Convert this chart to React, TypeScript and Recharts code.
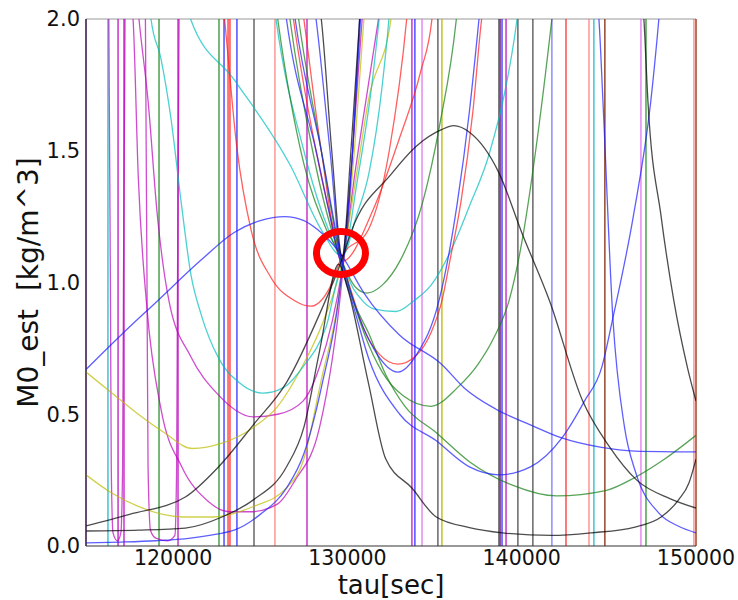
import { LineChart, Line, XAxis, YAxis, ReferenceLine, ReferenceDot } from 'recharts'

type Pt = [number, number]

// axis ticks
const xTicks = [120000, 130000, 140000, 150000]
const yTicks = [0, 0.5, 1.0, 1.5, 2.0]

// where everything crosses (marked by the red ring)
const crossing: Pt = [129630, 1.112]

// curves, [tau, M0_est]
const blueHump: Pt[] = [[115000, 0.67], [117000, 0.8], [119100, 0.93], [121600, 1.085], [123500, 1.19], [125000, 1.235], [126400, 1.25], [127500, 1.235], [128300, 1.2], [129700, 1.1], [130950, 0.96], [133000, 0.8], [135400, 0.69], [136700, 0.6], [138500, 0.52], [140500, 0.46], [142300, 0.41], [144500, 0.375], [146500, 0.36], [150000, 0.357]]
const blackHump: Pt[] = [[115000, 0.076], [117500, 0.12], [120700, 0.186], [122600, 0.3], [124600, 0.46], [126500, 0.62], [128400, 0.88], [129700, 1.09], [130200, 1.19], [132500, 1.41], [134000, 1.52], [135400, 1.58], [136100, 1.595], [137000, 1.57], [138700, 1.415], [140000, 1.19], [141600, 0.93], [143500, 0.55], [145000, 0.38], [146600, 0.25], [148500, 0.18], [150000, 0.144]]
const blackTent: Pt[] = [[115000, 0.057], [118000, 0.06], [120700, 0.068], [122800, 0.11], [124600, 0.175], [126500, 0.3], [127500, 0.45], [128400, 0.74], [129500, 1.07], [130000, 0.98], [131200, 0.62], [132200, 0.33], [133700, 0.22], [135100, 0.11], [137000, 0.07], [138900, 0.05], [141700, 0.04], [144000, 0.05], [146500, 0.072], [148000, 0.11], [149000, 0.175], [149600, 0.24], [150000, 0.33]]
const blackV: Pt[] = [[128300, 2.1], [128500, 2.0], [129100, 1.5], [129700, 1.1], [130200, 1.5], [130700, 2.0], [130800, 2.1]]
const blackSteep: Pt[] = [[146900, 2.1], [147010, 2.0], [147240, 1.69], [148000, 1.25], [148730, 0.93], [149500, 0.68], [150000, 0.55]]
const yellowUpper: Pt[] = [[115000, 0.66], [116500, 0.58], [118000, 0.5], [119500, 0.43], [121100, 0.37], [122800, 0.39], [124600, 0.45], [126000, 0.53], [127400, 0.68], [128600, 0.85], [129700, 1.08], [130500, 1.4], [131230, 1.7], [132500, 2.0], [132700, 2.1]]
const yellowLower: Pt[] = [[115000, 0.27], [116500, 0.2], [118000, 0.15], [120600, 0.11], [122300, 0.11], [124600, 0.15], [126500, 0.22], [127500, 0.33], [128400, 0.6], [129700, 1.04], [130400, 1.5], [131000, 2.05]]
const cyanW: Pt[] = [[118600, 2.1], [118730, 2.0], [119300, 1.85], [119880, 1.62], [120450, 1.31], [121020, 1.03], [121600, 0.88], [122630, 0.71], [123800, 0.62], [125150, 0.58], [126300, 0.6], [127450, 0.68], [128770, 0.83], [129700, 1.05], [130400, 0.97], [131500, 0.9], [132800, 0.89], [133800, 0.93], [134800, 0.99], [136000, 1.13], [137000, 1.29], [138100, 1.48], [139200, 1.78], [139730, 2.0], [139900, 2.1]]
const cyanLong: Pt[] = [[120600, 2.15], [121000, 2.0], [123500, 1.77], [126760, 1.44], [128500, 1.2], [129700, 1.1], [130500, 1.25], [131250, 1.42], [132000, 1.75], [132380, 2.0], [132500, 2.1]]
const cyanV: Pt[] = [[125700, 2.1], [125900, 2.0], [127500, 1.5], [128800, 1.22], [129700, 1.1], [130600, 1.4], [131400, 1.75], [131900, 2.05]]
const redLeftU: Pt[] = [[122800, 2.1], [122950, 2.0], [123660, 1.51], [124470, 1.2], [125600, 1.02], [127000, 0.93], [127900, 0.91], [128900, 0.97], [129700, 1.1], [131200, 1.2], [132400, 1.5], [133400, 2.0], [133600, 2.15]]
const redRightU: Pt[] = [[126700, 2.1], [126900, 2.0], [128200, 1.5], [129700, 1.08], [130300, 0.95], [130900, 0.83], [131800, 0.73], [132900, 0.69], [133900, 0.72], [134800, 0.81], [135420, 0.93], [135900, 1.09], [136500, 1.3], [137200, 1.65], [137700, 2.0], [137900, 2.1]]
const redV: Pt[] = [[127300, 2.1], [127500, 2.0], [128500, 1.5], [129700, 1.08], [131500, 1.28], [133000, 1.55], [134200, 1.8], [134850, 2.0], [135000, 2.1]]
const greenMid: Pt[] = [[125800, 2.1], [126000, 2.0], [127500, 1.45], [128800, 1.2], [129700, 1.08], [130030, 1.0], [131000, 0.8], [132000, 0.66], [133200, 0.57], [134790, 0.53], [136300, 0.6], [137500, 0.69], [138400, 0.79], [139270, 0.93], [140000, 1.15], [140800, 1.5], [141730, 2.0], [141900, 2.1]]
const greenNear: Pt[] = [[126500, 2.1], [126700, 2.0], [128000, 1.5], [129700, 1.08], [130500, 0.98], [131100, 0.96], [132000, 0.99], [133000, 1.08], [134300, 1.3], [135300, 1.6], [136250, 2.0], [136400, 2.1]]
const greenWide: Pt[] = [[127000, 2.1], [127200, 2.0], [128500, 1.5], [129700, 1.06], [130400, 0.92], [131200, 0.81], [132200, 0.65], [133300, 0.53], [135100, 0.43], [137000, 0.32], [139500, 0.23], [142000, 0.19], [144800, 0.21], [146500, 0.26], [148200, 0.33], [150000, 0.42]]
const blueNearU: Pt[] = [[126800, 2.1], [127000, 2.0], [128500, 1.5], [129700, 1.08], [130500, 0.9], [131500, 0.75], [132900, 0.66], [134000, 0.73], [135250, 0.93], [136300, 1.3], [137000, 1.65], [137550, 2.0], [137700, 2.1]]
const blueWideU: Pt[] = [[126300, 2.1], [126500, 2.0], [128200, 1.5], [129700, 1.05], [130300, 0.92], [131230, 0.71], [133000, 0.5], [135080, 0.4], [137000, 0.3], [138700, 0.27], [140500, 0.3], [142310, 0.41], [143600, 0.55], [144600, 0.68], [145230, 0.865], [146400, 1.25], [147410, 1.69], [147870, 2.0], [148000, 2.1]]
const blueSteep: Pt[] = [[144300, 2.1], [144430, 2.0], [144660, 1.69], [145230, 0.865], [145900, 0.45], [146550, 0.277], [147870, 0.125], [149000, 0.075], [150000, 0.05]]
const blueLow: Pt[] = [[115000, 0.012], [117000, 0.015], [119000, 0.02], [121000, 0.03], [122500, 0.045], [123500, 0.06], [125000, 0.12], [126500, 0.22], [127500, 0.35], [128500, 0.6], [129700, 1.05], [130300, 1.5], [130800, 2.05]]
const blueV: Pt[] = [[128000, 2.1], [128200, 2.0], [129000, 1.5], [129700, 1.08], [130300, 1.5], [130700, 2.0], [130800, 2.1]]
const magentaDeep: Pt[] = [[117500, 2.1], [117700, 2.0], [118000, 1.4], [118500, 0.9], [119300, 0.52], [120500, 0.3], [122000, 0.17], [123200, 0.13], [124500, 0.13], [126000, 0.16], [127000, 0.25], [128400, 0.45], [129700, 1.02], [130300, 1.5], [130900, 2.05]]
const magentaMid: Pt[] = [[117900, 2.1], [118040, 2.0], [118560, 1.69], [119100, 1.25], [119760, 0.93], [121000, 0.72], [122500, 0.58], [124580, 0.49], [126000, 0.5], [127450, 0.55], [128400, 0.68], [129700, 1.05], [130400, 1.4], [131200, 1.75], [131900, 2.05]]
const magentaDip1: Pt[] = [[116300, 2.1], [116400, 1.0], [116450, 0.3], [116550, 0.05], [116800, 0.02], [117000, 0.05], [117100, 0.3], [117150, 1.0], [117250, 2.1]]
const magentaDip2: Pt[] = [[118400, 2.1], [118500, 1.0], [118560, 0.3], [118700, 0.06], [119000, 0.03], [119700, 0.02], [120100, 0.04], [120200, 0.3], [120250, 1.0], [120350, 2.1]]

// near-vertical poles, tau
const polesMagenta = [116840, 117180, 120280, 127680, 133700, 139100]
const polesViolet = [134280, 146840]
const polesLightRed = [125840, 143860, 149880]
const polesRed = [123150, 123260, 142540]
const polesGreen = [119190, 122630, 147130]
const polesBlue = [122920, 123660, 133870, 138870]
const polesLightBlue = [141730]
const polesCyan = [116260, 144140]
const polesGray = [124640, 135190, 138690, 139780, 140640]
const polesYellow = [135420]
const polesBrown = [144770, 150000]
const polesPurple = [115000, 138760]

const C = {
  b: '#1a1aff',
  g: '#107c10',
  r: '#ff1a1a',
  c: '#00bdbd',
  m: '#bb00bb',
  y: '#bcbc00',
  k: '#000000',
}

const curves: { name: string; pts: Pt[]; color: string }[] = [
  { name: 'magentaDip1', pts: magentaDip1, color: C.m },
  { name: 'magentaDip2', pts: magentaDip2, color: C.m },
  { name: 'magentaDeep', pts: magentaDeep, color: C.m },
  { name: 'magentaMid', pts: magentaMid, color: C.m },
  { name: 'yellowUpper', pts: yellowUpper, color: C.y },
  { name: 'yellowLower', pts: yellowLower, color: C.y },
  { name: 'cyanW', pts: cyanW, color: C.c },
  { name: 'cyanLong', pts: cyanLong, color: C.c },
  { name: 'cyanV', pts: cyanV, color: C.c },
  { name: 'redLeftU', pts: redLeftU, color: C.r },
  { name: 'redRightU', pts: redRightU, color: C.r },
  { name: 'redV', pts: redV, color: C.r },
  { name: 'greenMid', pts: greenMid, color: C.g },
  { name: 'greenNear', pts: greenNear, color: C.g },
  { name: 'greenWide', pts: greenWide, color: C.g },
  { name: 'blueNearU', pts: blueNearU, color: C.b },
  { name: 'blueWideU', pts: blueWideU, color: C.b },
  { name: 'blueSteep', pts: blueSteep, color: C.b },
  { name: 'blueLow', pts: blueLow, color: C.b },
  { name: 'blueV', pts: blueV, color: C.b },
  { name: 'blueHump', pts: blueHump, color: C.b },
  { name: 'blackHump', pts: blackHump, color: C.k },
  { name: 'blackTent', pts: blackTent, color: C.k },
  { name: 'blackV', pts: blackV, color: C.k },
  { name: 'blackSteep', pts: blackSteep, color: C.k },
]

const poleGroups: { xs: number[]; color: string; opacity: number }[] = [
  { xs: polesMagenta, color: '#bb00bb', opacity: 0.75 },
  { xs: polesViolet, color: '#dd77ee', opacity: 0.8 },
  { xs: polesLightRed, color: '#ff7070', opacity: 0.7 },
  { xs: polesRed, color: '#ff2020', opacity: 0.75 },
  { xs: polesGreen, color: '#108010', opacity: 0.7 },
  { xs: polesBlue, color: '#2020ff', opacity: 0.75 },
  { xs: polesLightBlue, color: '#7070ff', opacity: 0.75 },
  { xs: polesCyan, color: '#20b8c8', opacity: 0.8 },
  { xs: polesGray, color: '#333333', opacity: 0.7 },
  { xs: polesYellow, color: '#b8b800', opacity: 0.8 },
  { xs: polesBrown, color: '#8a3412', opacity: 0.85 },
  { xs: polesPurple, color: '#6a1a8a', opacity: 0.85 },
]

const FONT = 'DejaVu Sans'

export default function App() {
  return (
    <div style={{ position: 'absolute', left: 0, top: 0, width: 738, height: 600, background: '#fff' }}>
      <LineChart width={738} height={600} margin={{ top: 19, right: 42, bottom: 0, left: 0 }}>
        <XAxis
          dataKey="x"
          type="number"
          domain={[115000, 150000]}
          allowDataOverflow
          ticks={xTicks}
          tickLine={false}
          tickSize={0}
          tickMargin={4}
          height={54}
          axisLine={{ stroke: '#333' }}
          tick={{ fill: '#111', fontSize: 20.5, fontFamily: FONT }}
          label={{
            content: (p: any) => {
              const vb = p.viewBox || { x: 86, y: 546, width: 610 }
              return (
                <text x={vb.x + vb.width / 2} y={vb.y + 47.5} textAnchor="middle" fontSize={26} fontFamily={FONT} fill="#111">
                  tau[sec]
                </text>
              )
            },
          }}
        />
        <YAxis
          type="number"
          domain={[0, 2]}
          allowDataOverflow
          ticks={yTicks}
          tickFormatter={(v: number) => v.toFixed(1)}
          tickLine={false}
          tickSize={0}
          tickMargin={6}
          width={86}
          axisLine={{ stroke: '#333' }}
          tick={{ fill: '#111', fontSize: 21, fontFamily: FONT }}
          label={{
            content: (p: any) => {
              const vb = p.viewBox || { x: 0, y: 19, height: 527 }
              const cx = 38
              const cy = vb.y + vb.height / 2
              return (
                <text x={cx} y={cy} transform={`rotate(-90 ${cx} ${cy})`} textAnchor="middle" fontSize={28} fontFamily={FONT} fill="#111" style={{ whiteSpace: 'pre' }}>
                  {'M0_est  [kg/m^3]'}
                </text>
              )
            },
          }}
        />
        <ReferenceLine y={2} stroke="#999" strokeWidth={1.2} />
        {poleGroups.map((g, gi) =>
          g.xs.map((x) => (
            <ReferenceLine key={`p-${gi}-${x}`} x={x} stroke={g.color} strokeOpacity={g.opacity} strokeWidth={1.6} />
          ))
        )}
        {curves.map((c) => (
          <Line
            key={c.name}
            data={c.pts.map(([x, y]) => ({ x, y }))}
            dataKey="y"
            type="monotone"
            stroke={c.color}
            strokeOpacity={0.7}
            strokeWidth={1.3}
            dot={false}
            activeDot={false}
            isAnimationActive={false}
          />
        ))}
        <ReferenceDot
          x={crossing[0]}
          y={crossing[1]}
          r={1}
          shape={(p: any) => (
            <ellipse cx={p.cx} cy={p.cy} rx={24.5} ry={21.5} fill="none" stroke="#ff0000" strokeWidth={7} />
          )}
        />
      </LineChart>
    </div>
  )
}
